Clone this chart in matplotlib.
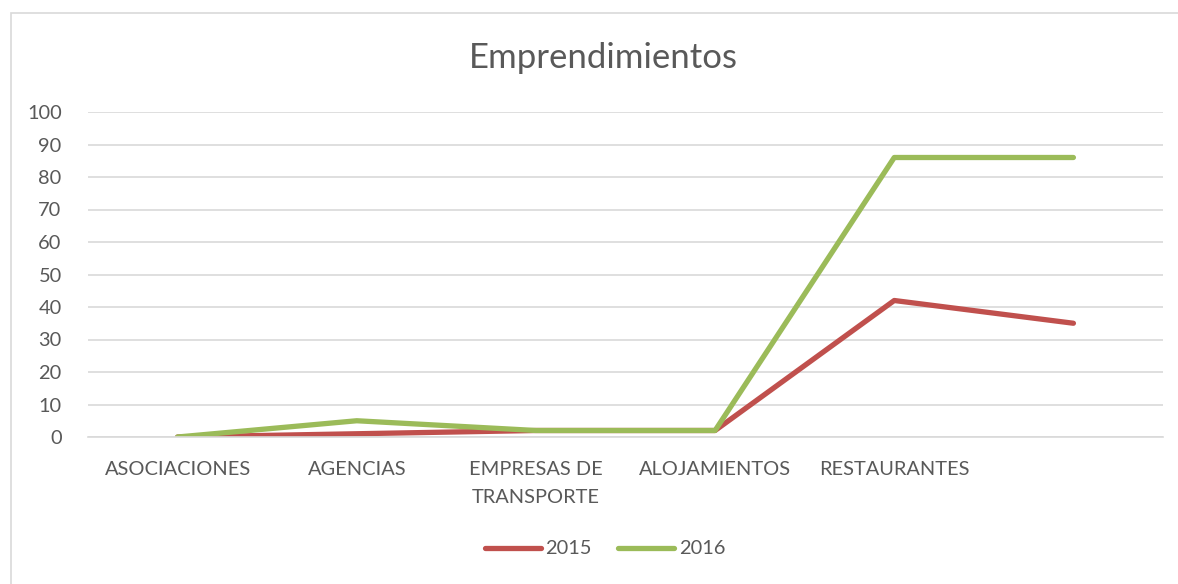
import matplotlib.pyplot as plt
import matplotlib.patches as patches

categorias = ['ASOCIACIONES', 'AGENCIAS', 'EMPRESAS DE\nTRANSPORTE', 'ALOJAMIENTOS', 'RESTAURANTES', '']
v2015 = [0, 1, 2, 2, 42, 35]
v2016 = [0, 5, 2, 2, 86, 86]

gris = '#595959'
plt.rcParams['font.family'] = ['Lato', 'DejaVu Sans']

fig = plt.figure(figsize=(11.78, 5.84), dpi=100)
ax = fig.add_axes([88/1178, (584-437)/584, (1163-88)/1178, (437-112)/584])

# borde del grafico
fig.patches.append(patches.Rectangle((11/1178, -0.01), 1.2, 1 - 13/584 + 0.01,
                                     transform=fig.transFigure, fill=False,
                                     edgecolor='#D9D9D9', linewidth=1.2))

x = list(range(len(categorias)))
ax.plot(x, v2015, color='#C0504D', linewidth=3.8, solid_capstyle='round', label='2015')
ax.plot(x, v2016, color='#9BBB59', linewidth=3.8, solid_capstyle='round', label='2016')

ax.set_xlim(-0.5, len(categorias) - 0.5)
ax.set_ylim(0, 100)
ax.set_yticks(range(0, 101, 10))
ax.set_xticks(x)
ax.set_xticklabels(categorias, fontsize=14.4, color=gris, linespacing=1.8)
ax.tick_params(axis='y', labelsize=14.4, labelcolor=gris, length=0, pad=19)
ax.tick_params(axis='x', length=0, pad=17)
ax.grid(axis='y', color='#D9D9D9', linewidth=1.2)
ax.set_axisbelow(True)
for s in ['top', 'right', 'left']:
    ax.spines[s].set_visible(False)
ax.spines['bottom'].set_color('#D9D9D9')
ax.spines['bottom'].set_linewidth(1.2)

fig.text(603/1178, 1 - 58/584, 'Emprendimientos', ha='center', va='center', fontsize=25, color=gris)
fig.legend(loc='center', bbox_to_anchor=(605/1178, 1 - 549/584), ncol=2, frameon=False,
           fontsize=14.4, labelcolor=gris, handlelength=2.8, handletextpad=0.25, columnspacing=1.3)

fig.savefig('out.png', dpi=100)
